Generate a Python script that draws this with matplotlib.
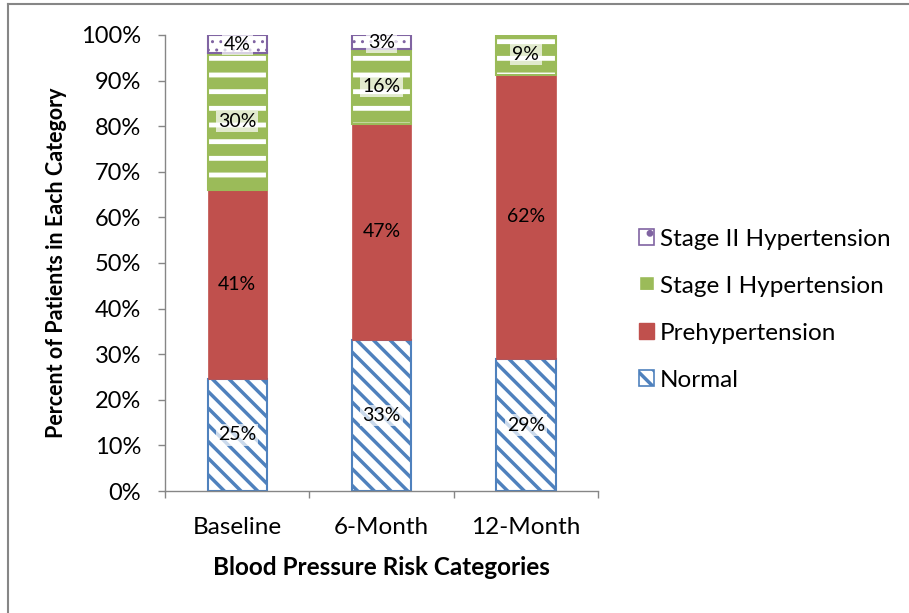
import numpy as np
import matplotlib.pyplot as plt
from matplotlib.lines import Line2D
from matplotlib.patches import Patch

plt.rcParams['font.family'] = ['Lato', 'DejaVu Sans']

categories = ['Baseline', '6-Month', '12-Month']
normal = [24.6, 33.1, 28.9]
prehyp = [41.4, 47.4, 62.4]
stage1 = [30.0, 16.4, 8.7]
stage2 = [4.0, 3.1, 0.0]

blue = '#4F81BD'
red = '#C0504D'
green = '#9BBB59'
purple = '#8064A2'
grey = '#868686'

fig = plt.figure(figsize=(9.09, 6.13), dpi=100)
ax = fig.add_axes([0.1815, 0.199, 0.4765, 0.744])

x = np.arange(len(categories))
w = 0.41
normal = np.array(normal)
prehyp = np.array(prehyp)
stage1 = np.array(stage1)
stage2 = np.array(stage2)
b1 = normal
b2 = normal + prehyp
b3 = b2 + stage1

# Normal: white with blue diagonal stripes
plt.rcParams['hatch.linewidth'] = 2.5
ax.bar(x, normal, w, color='white', edgecolor=blue, hatch='\\\\', linewidth=1.5)
# Prehypertension: solid red
ax.bar(x, prehyp, w, bottom=b1, color=red, edgecolor=red, linewidth=0.5)
# Stage I: green with white horizontal stripes
plt.rcParams['hatch.linewidth'] = 3.5
ax.bar(x, stage1, w, bottom=b2, color=green, edgecolor=green, linewidth=0)
ax.bar(x, stage1, w, bottom=b2, color='none', edgecolor='white', hatch='-', linewidth=0)
ax.bar(x, stage1, w, bottom=b2, color='none', edgecolor=green, linewidth=1.5)
# Stage II: white with purple dots
mask = stage2 > 0
plt.rcParams['hatch.linewidth'] = 1.0
ax.bar(x[mask], stage2[mask], w, bottom=b3[mask], color='white', edgecolor=purple,
       hatch='..', linewidth=1.5)

box = dict(facecolor='white', alpha=0.7, edgecolor='none', pad=1.5)
for vals, bottoms in [(normal, np.zeros(3)), (prehyp, b1), (stage1, b2), (stage2, b3)]:
    for xi, v, bt in zip(x, vals, bottoms):
        if v <= 0:
            continue
        t = ax.text(xi, bt + v / 2, '{:.0f}%'.format(v), ha='center', va='center',
                    fontsize=14, color='black')
        if vals is not prehyp:
            t.set_bbox(box)

ax.set_xlim(-0.5, 2.5)
ax.set_ylim(0, 100)
ax.set_yticks(np.arange(0, 101, 10))
ax.set_yticklabels(['{}%'.format(v) for v in range(0, 101, 10)], fontsize=17)
ax.set_xticks([-0.5, 0.5, 1.5, 2.5])
ax.set_xticklabels([])
ax.set_xticks(x, minor=True)
ax.set_xticklabels(categories, minor=True, fontsize=17.5)
ax.tick_params(axis='x', which='minor', length=0, pad=19)
ax.tick_params(axis='both', which='major', length=5, color=grey, width=1)
ax.tick_params(axis='y', pad=12)
for s in ['top', 'right']:
    ax.spines[s].set_visible(False)
for s in ['left', 'bottom']:
    ax.spines[s].set_color(grey)
    ax.spines[s].set_linewidth(1)

ax.set_xlabel('Blood Pressure Risk Categories', fontsize=17.5, fontweight='bold', labelpad=12.5)
ax.set_ylabel('Percent of Patients in Each Category', fontsize=15.5, fontweight='bold', labelpad=10)

plt.rcParams['hatch.linewidth'] = 2.5
handles = [
    Patch(facecolor='white', edgecolor=purple, hatch='.', linewidth=1.2),
    Patch(facecolor=green, edgecolor='white', hatch='-'),
    Patch(facecolor=red, edgecolor=red),
    Patch(facecolor='white', edgecolor=blue, hatch='\\\\', linewidth=1.2),
]
labels = ['Stage II Hypertension', 'Stage I Hypertension', 'Prehypertension', 'Normal']
fig.legend(handles, labels, loc='center left', bbox_to_anchor=(0.679, 0.495),
           frameon=False, fontsize=17.5, handlelength=0.62, handleheight=0.62,
           handletextpad=0.25, labelspacing=1.07)

# chart area border
fig.add_artist(Line2D([0.0085, 0.0085], [0, 0.993], transform=fig.transFigure, color=grey, lw=1.5))
fig.add_artist(Line2D([0.0085, 1.0], [0.993, 0.993], transform=fig.transFigure, color=grey, lw=1.5))

plt.savefig('out.png', dpi=100)
